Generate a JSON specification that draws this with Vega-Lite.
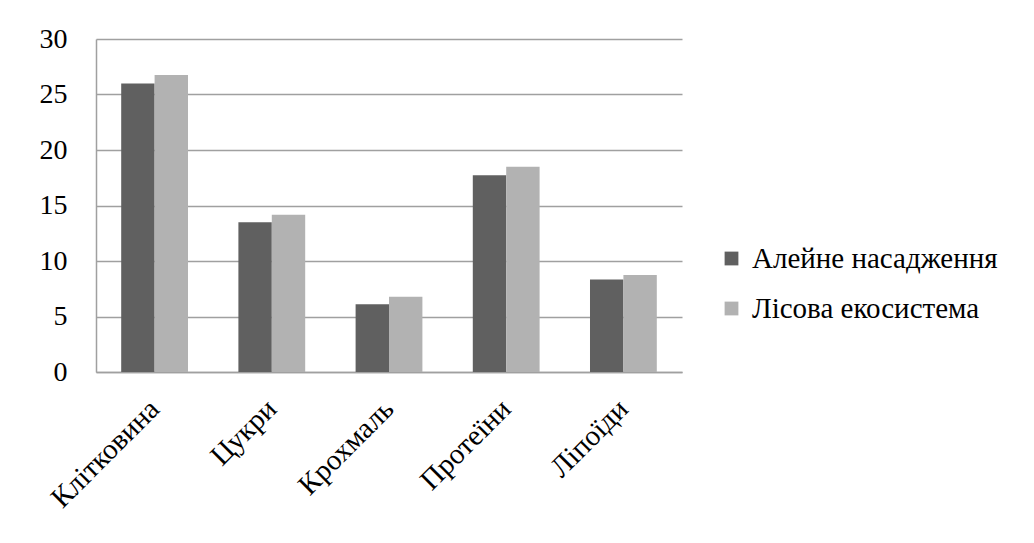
{
  "$schema": "https://vega.github.io/schema/vega-lite/v6.json",
  "autosize": {"type": "none"},
  "padding": {"left": 96, "top": 39, "right": 352, "bottom": 171},
  "width": 586,
  "height": 333,
  "background": "white",
  "config": {"view": {"stroke": null}, "font": "Liberation Serif"},
  "data": {
    "values": [
      {"category": "Клітковина", "series": "Алейне насадження", "value": 26.0},
      {"category": "Клітковина", "series": "Лісова екосистема", "value": 26.75},
      {"category": "Цукри", "series": "Алейне насадження", "value": 13.5},
      {"category": "Цукри", "series": "Лісова екосистема", "value": 14.17},
      {"category": "Крохмаль", "series": "Алейне насадження", "value": 6.1},
      {"category": "Крохмаль", "series": "Лісова екосистема", "value": 6.77},
      {"category": "Протеїни", "series": "Алейне насадження", "value": 17.72},
      {"category": "Протеїни", "series": "Лісова екосистема", "value": 18.5},
      {"category": "Ліпоїди", "series": "Алейне насадження", "value": 8.33},
      {"category": "Ліпоїди", "series": "Лісова екосистема", "value": 8.73}
    ]
  },
  "mark": {"type": "bar"},
  "encoding": {
    "x": {
      "field": "category",
      "type": "nominal",
      "sort": null,
      "scale": {"paddingInner": 0.43, "paddingOuter": 0.215},
      "axis": {
        "title": null,
        "labelAngle": -45,
        "labelAlign": "right",
        "labelBaseline": "middle",
        "labelFontSize": 29,
        "labelFont": "Liberation Serif",
        "labelColor": "black",
        "labelPadding": 32,
        "labelLimit": 400,
        "ticks": false,
        "domainColor": "#a0a0a0",
        "domainWidth": 1.5
      }
    },
    "xOffset": {"field": "series", "sort": null},
    "y": {
      "field": "value",
      "type": "quantitative",
      "scale": {"domain": [0, 30]},
      "axis": {
        "title": null,
        "values": [0, 5, 10, 15, 20, 25, 30],
        "ticks": false,
        "labelFontSize": 28,
        "labelFont": "Liberation Serif",
        "labelColor": "black",
        "labelPadding": 29,
        "gridColor": "#a0a0a0",
        "gridWidth": 1.5,
        "domainColor": "#a0a0a0",
        "domainWidth": 1.5
      }
    },
    "color": {
      "field": "series",
      "type": "nominal",
      "sort": null,
      "scale": {"range": ["#606060", "#b2b2b2"]},
      "legend": {
        "title": null,
        "orient": "none",
        "legendX": 621,
        "legendY": 205,
        "symbolType": "square",
        "symbolSize": 190,
        "symbolStrokeWidth": 0,
        "labelFontSize": 29,
        "labelFont": "Liberation Serif",
        "labelColor": "black",
        "labelLimit": 400,
        "labelOffset": 6,
        "rowPadding": 20
      }
    }
  }
}
